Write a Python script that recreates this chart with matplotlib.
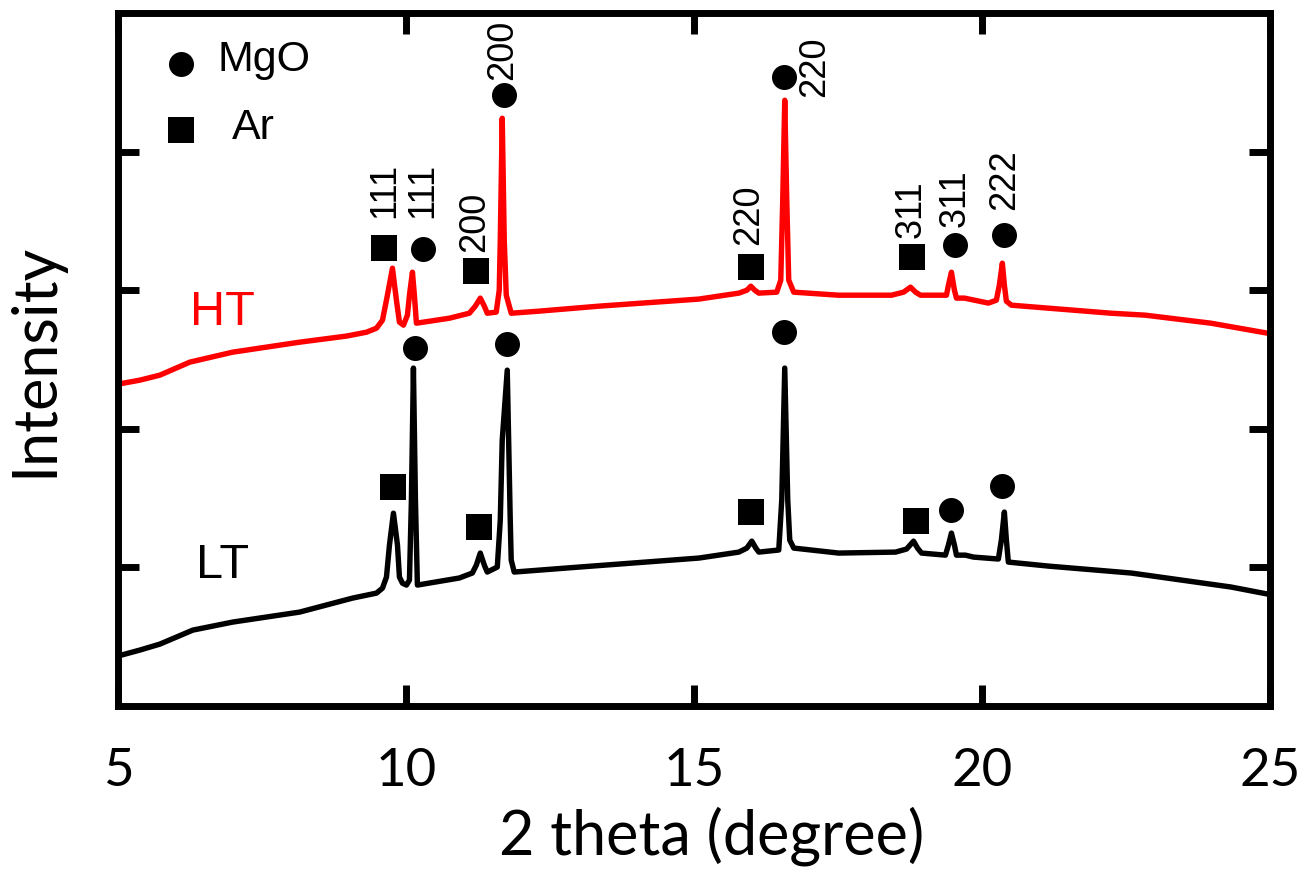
import matplotlib
matplotlib.use("Agg")
import matplotlib.pyplot as plt

# ── XRD traces (2 theta in degree, intensity in arbitrary offset units) ────────
ht_theta = [5.000, 5.381, 5.728, 6.248, 6.993, 8.154, 8.969, 9.315, 9.489, 9.593,
            9.662, 9.766, 9.835, 9.887, 9.957, 10.026, 10.061, 10.113, 10.147, 10.182,
            10.754, 11.101, 11.205, 11.291, 11.361, 11.412, 11.568, 11.620, 11.638, 11.672,
            11.707, 11.742, 11.828, 12.314, 13.354, 15.087, 15.780, 15.919, 15.988, 16.057,
            16.127, 16.438, 16.508, 16.542, 16.577, 16.612, 16.646, 16.733, 17.513, 18.432,
            18.640, 18.761, 18.848, 18.934, 19.385, 19.419, 19.471, 19.523, 19.558, 19.697,
            20.113, 20.251, 20.303, 20.355, 20.390, 20.425, 20.511, 22.244, 22.834, 23.977,
            25.000]
ht_int = [2.323, 2.352, 2.388, 2.482, 2.554, 2.626, 2.670, 2.698, 2.727, 2.785,
          2.929, 3.160, 2.929, 2.771, 2.749, 2.821, 2.965, 3.131, 2.965, 2.763,
          2.799, 2.835, 2.886, 2.944, 2.886, 2.835, 2.843, 3.001, 3.362, 4.242,
          3.362, 2.965, 2.835, 2.850, 2.886, 2.937, 2.980, 3.001, 3.030, 3.001,
          2.980, 2.987, 3.074, 3.651, 4.372, 3.651, 3.074, 2.987, 2.965, 2.965,
          2.987, 3.023, 2.987, 2.965, 2.965, 3.038, 3.131, 3.001, 2.944, 2.944,
          2.908, 2.929, 3.038, 3.196, 3.038, 2.922, 2.893, 2.835, 2.821, 2.763,
          2.688]

lt_theta = [5.000, 5.381, 5.728, 6.300, 6.993, 8.154, 9.073, 9.489, 9.593, 9.662,
            9.714, 9.783, 9.853, 9.887, 9.939, 10.009, 10.061, 10.095, 10.130, 10.165,
            10.199, 10.927, 11.153, 11.222, 11.291, 11.361, 11.412, 11.586, 11.638, 11.672,
            11.759, 11.811, 11.828, 11.880, 13.007, 15.087, 15.780, 15.919, 16.005, 16.075,
            16.127, 16.473, 16.525, 16.577, 16.629, 16.664, 16.733, 17.513, 18.501, 18.692,
            18.813, 18.882, 18.952, 19.367, 19.419, 19.471, 19.523, 19.558, 19.714, 19.853,
            20.286, 20.338, 20.390, 20.425, 20.459, 21.153, 22.591, 24.324, 25.000]
lt_int = [0.361, 0.404, 0.447, 0.548, 0.606, 0.678, 0.779, 0.815, 0.851, 0.931,
          1.162, 1.392, 1.162, 0.931, 0.887, 0.873, 0.909, 1.486, 2.439, 1.486,
          0.873, 0.924, 0.960, 1.017, 1.104, 1.017, 0.967, 1.003, 1.342, 1.919,
          2.424, 1.342, 1.053, 0.967, 1.003, 1.068, 1.111, 1.140, 1.190, 1.140,
          1.111, 1.126, 1.486, 2.439, 1.486, 1.198, 1.140, 1.104, 1.111, 1.133,
          1.190, 1.140, 1.104, 1.089, 1.162, 1.248, 1.162, 1.089, 1.089, 1.075,
          1.061, 1.198, 1.400, 1.198, 1.039, 1.010, 0.960, 0.859, 0.805]

# ── phase markers ──────────────────────────────────────────────────────────────
ht_ar_x  = [9.627, 11.222, 15.988, 18.778]
ht_ar_y  = [3.304, 3.139, 3.167, 3.240]
ht_mgo_x = [10.303, 11.707, 16.560, 19.541, 20.390]
ht_mgo_y = [3.297, 4.408, 4.538, 3.326, 3.398]
lt_ar_x  = [9.783, 11.274, 15.988, 18.848]
lt_ar_y  = [1.580, 1.291, 1.400, 1.335]
lt_mgo_x = [10.165, 11.759, 16.560, 19.471, 20.355]
lt_mgo_y = [2.583, 2.612, 2.698, 1.414, 1.587]

# Miller indices written over the HT peaks
hkl_text = ["111", "111", "200", "200", "220", "220", "311", "311", "222"]
hkl_x    = [9.627, 10.286, 11.187, 11.672, 15.953, 17.097, 18.778, 19.541, 20.390]
hkl_y    = [3.521, 3.521, 3.276, 4.517, 3.326, 4.394, 3.377, 3.456, 3.579]

xticks = [5, 10, 15, 20, 25]
yticks = [1, 2, 3, 4]

RED = "#FF0000"
ANN = "Liberation Sans"

fig = plt.figure(figsize=(13.12, 8.82), dpi=100)
ax = fig.add_axes([0.0899, 0.1995, 0.878, 0.7855])

ax.plot(ht_theta, ht_int, color=RED, lw=3.9, solid_joinstyle="round")
ax.plot(lt_theta, lt_int, color="black", lw=3.9, solid_joinstyle="round")

for xs, ys, mk, ms in [(ht_ar_x, ht_ar_y, "s", 18.5), (lt_ar_x, lt_ar_y, "s", 18.5),
                       (ht_mgo_x, ht_mgo_y, "o", 18), (lt_mgo_x, lt_mgo_y, "o", 18)]:
    ax.plot(xs, ys, ls="none", marker=mk, ms=ms, color="black", mew=0, clip_on=False)

for t, x, y in zip(hkl_text, hkl_x, hkl_y):
    ax.text(x, y, t, rotation=90, ha="center", va="bottom", fontsize=26, family=ANN)

# sample labels
ax.text(6.82, 2.843, "HT", color=RED, fontsize=35, family=ANN, ha="center", va="center")
ax.text(6.82, 1.017, "LT", color="black", fontsize=35, family=ANN, ha="center", va="center")

# phase key
ax.plot([6.092], [4.632], marker="o", ms=18, color="black", mew=0)
ax.plot([6.092], [4.156], marker="s", ms=18.5, color="black", mew=0)
ax.text(6.733, 4.661, "MgO", fontsize=31, family=ANN, va="center", ha="left")
ax.text(6.976, 4.170, "Ar", fontsize=31, family=ANN, va="center", ha="left")

ax.set_xlim(5, 25)
ax.set_ylim(0, 5)
ax.set_xticks(xticks)
ax.set_yticks(yticks)
ax.set_yticklabels([])
ax.tick_params(direction="in", length=15, width=5, top=True, right=True,
               labelsize=38, pad=30)
for lab in ax.get_xticklabels():
    lab.set_family("Lato")
for sp in ax.spines.values():
    sp.set_linewidth(5)

ax.set_xlabel("2 theta (degree)", fontsize=44, family="Lato")
ax.set_ylabel("Intensity", fontsize=44, family="Lato")
ax.xaxis.set_label_coords(0.515, -0.145)
ax.yaxis.set_label_coords(-0.047, 0.5)

fig.savefig("out.png", dpi=100)
